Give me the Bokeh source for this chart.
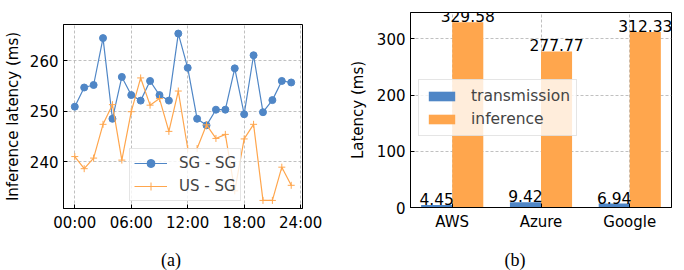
from bokeh.plotting import figure
from bokeh.layouts import row, column
from bokeh.models import (ColumnDataSource, Range1d, FixedTicker, Legend, LegendItem,
                          LabelSet, Div)
from bokeh.core.properties import value
from bokeh.transform import dodge
from bokeh.embed import file_html
from bokeh.resources import INLINE

# ---------------- data ----------------
hours = list(range(24))
sg_sg = [250.9, 254.7, 255.2, 264.5, 248.5, 256.8, 253.2, 252.1, 256.0, 253.2, 252.1, 265.4,
         258.6, 248.5, 247.2, 250.3, 250.3, 258.5, 249.4, 261.1, 249.8, 252.2, 256.0, 255.7]
us_sg = [241.0, 238.6, 240.7, 247.4, 251.3, 240.3, 249.9, 256.6, 251.2, 252.5, 246.0, 254.0,
         242.6, 242.6, 247.3, 244.6, 245.4, 234.2, 244.5, 247.4, 232.3, 232.3, 238.9, 235.3]
time_ticks = [0, 6, 12, 18, 24]
time_labels = ["00:00", "06:00", "12:00", "18:00", "24:00"]

providers = ["AWS", "Azure", "Google"]
transmission = [4.45, 9.42, 6.94]
inference = [329.58, 277.77, 312.33]

BLUE = "#4f86c6"
ORANGE = "#ffa64d"
FONT = "DejaVu Sans"
GRID = "#b0b0b0"


def style(p):
    p.outline_line_color = "black"
    p.outline_line_width = 1
    for ax in (p.xaxis[0], p.yaxis[0]):
        ax.axis_line_color = "black"
        ax.major_tick_in = 4
        ax.major_tick_out = 0
        ax.minor_tick_line_color = None
        ax.major_label_text_font = FONT
        ax.major_label_text_font_size = "15px"
        ax.major_label_text_color = "black"
        ax.axis_label_text_font = FONT
        ax.axis_label_text_font_size = "15px"
        ax.axis_label_text_font_style = "normal"
        ax.axis_label_text_color = "black"
        ax.major_label_standoff = 5
    for g in (p.xgrid[0], p.ygrid[0]):
        g.grid_line_color = GRID
        g.grid_line_dash = "3 2"
        g.grid_line_width = 0.8


def caption(text, width):
    return Div(text=text, width=width, height=21,
               styles={"text-align": "center", "font-family": "Liberation Serif",
                       "font-size": "18px", "line-height": "21px", "color": "black",
                       "width": f"{width}px"})


H = 245

# ---------------- panel (a) ----------------
p1 = figure(width=332, height=H, output_backend="svg", toolbar_location=None, title=None,
            x_range=Range1d(-1.2, 24.2), y_range=Range1d(230.7, 267.2),
            min_border_left=56, min_border_right=30, min_border_top=24, min_border_bottom=37)
style(p1)
p1.xaxis.ticker = FixedTicker(ticks=time_ticks)
p1.xaxis.major_label_overrides = {t: l for t, l in zip(time_ticks, time_labels)}
p1.yaxis.ticker = FixedTicker(ticks=[240, 250, 260])
p1.yaxis.axis_label = "Inference latency (ms)"
p1.yaxis.axis_label_standoff = 5

src1 = ColumnDataSource(dict(h=hours, sg=sg_sg, us=us_sg))
l1 = p1.line("h", "sg", source=src1, line_color=BLUE, line_width=1.2)
m1 = p1.scatter("h", "sg", source=src1, marker="circle", size=7, fill_color=BLUE, line_color=BLUE)
l2 = p1.line("h", "us", source=src1, line_color=ORANGE, line_width=1.2)
m2 = p1.scatter("h", "us", source=src1, marker="cross", size=7, line_color=ORANGE, line_width=1)

leg1 = Legend(items=[LegendItem(label="SG - SG", renderers=[l1, m1]),
                     LegendItem(label="US - SG", renderers=[l2, m2])],
              location=(66, 7), glyph_width=33, glyph_height=20, label_height=20,
              label_standoff=12, padding=4, spacing=3, margin=0,
              label_text_font=FONT, label_text_font_size="15px",
              border_line_color="#cccccc", background_fill_alpha=0.8)
p1.add_layout(leg1, "center")

# ---------------- panel (b) ----------------
idx = list(range(len(providers)))
p2 = figure(width=336, height=H, output_backend="svg", toolbar_location=None, title=None,
            x_range=Range1d(-0.47, 2.47), y_range=Range1d(0, 347),
            min_border_left=68, min_border_right=7, min_border_top=12, min_border_bottom=38)
style(p2)
p2.xaxis.ticker = FixedTicker(ticks=idx)
p2.xaxis.major_label_overrides = {i: n for i, n in zip(idx, providers)}
p2.yaxis.ticker = FixedTicker(ticks=[0, 100, 200, 300])
p2.yaxis.axis_label = "Latency (ms)"
p2.yaxis.axis_label_standoff = 7

src2 = ColumnDataSource(dict(x=idx, t=transmission, i=inference,
                             tl=[f"{v:.2f}" for v in transmission],
                             il=[f"{v:.2f}" for v in inference]))
b1 = p2.vbar(x=dodge("x", -0.175), top="t", width=0.35, source=src2,
             fill_color=BLUE, line_color=None)
b2 = p2.vbar(x=dodge("x", 0.175), top="i", width=0.35, source=src2,
             fill_color=ORANGE, line_color=None)
for col_x, col_y, col_t in ((-0.175, "t", "tl"), (0.175, "i", "il")):
    p2.add_layout(LabelSet(x=dodge("x", col_x), y=col_y, text=col_t, source=src2,
                           text_align="center", text_baseline="bottom",
                           text_font=value(FONT), text_font_size="15.5px", text_color="black"))

leg2 = Legend(items=[LegendItem(label="transmission", renderers=[b1]),
                     LegendItem(label="inference", renderers=[b2])],
              location=(8, 71), glyph_width=33, glyph_height=12, label_height=20,
              label_standoff=13, padding=6, spacing=3, margin=0,
              label_text_font=FONT, label_text_font_size="15.5px",
              border_line_color="#cccccc", background_fill_alpha=0.8)
p2.add_layout(leg2, "center")

layout = row(column(p1, caption("(a)", 332), spacing=0),
             column(p2, caption("(b)", 336), spacing=0), spacing=0)
open("out.html", "w").write(file_html(layout, INLINE))
